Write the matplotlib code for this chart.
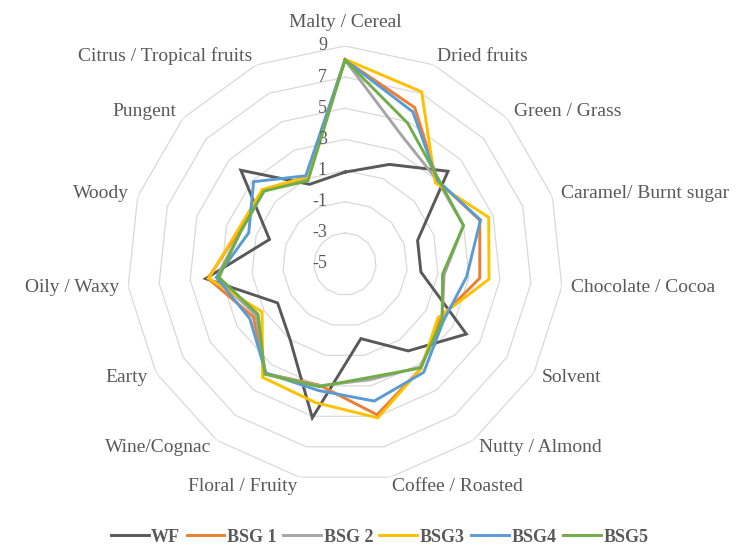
import numpy as np
import matplotlib
matplotlib.use("Agg")
import matplotlib.pyplot as plt

# aroma attributes, clockwise from the top
categories = ['Malty / Cereal', 'Dried fruits', 'Green / Grass', 'Caramel/ Burnt sugar',
              'Chocolate / Cocoa', 'Solvent', 'Nutty / Almond', 'Coffee / Roasted',
              'Floral / Fruity', 'Wine/Cognac', 'Earty', 'Oily / Waxy', 'Woody',
              'Pungent', 'Citrus / Tropical fruits']

series_names = ['WF', 'BSG 1', 'BSG 2', 'BSG3', 'BSG4', 'BSG5']
wf = [0.9, 2.0, 3.9, -0.1, -0.1, 4.0, 1.9, -0.1, 5.1, 1.0, 0.0, 4.0, 0.1, 4.0, 0.6]
bsg1 = [8.1, 6.0, 3.0, 4.1, 3.7, 2.0, 3.3, 4.9, 2.95, 3.7, 1.8, 3.85, 2.1, 2.1, 1.1]
bsg2 = [8.1, 4.0, 3.0, 3.0, 1.4, 2.2, 3.2, 2.6, 3.0, 3.7, 1.6, 3.3, 2.0, 2.0, 1.0]
bsg3 = [8.15, 7.1, 2.8, 4.7, 4.3, 1.9, 3.3, 5.1, 4.1, 4.0, 1.15, 3.8, 2.2, 2.15, 1.1]
bsg4 = [8.1, 5.7, 3.0, 4.15, 2.85, 2.3, 3.6, 4.0, 3.3, 3.65, 2.05, 3.3, 1.5, 2.9, 1.2]
bsg5 = [8.1, 4.9, 3.1, 3.0, 1.3, 2.2, 3.25, 2.45, 3.05, 3.75, 1.45, 3.15, 2.0, 2.0, 0.85]

ring_values = [-3, -1, 1, 3, 5, 7, 9]
tick_labels = ['9', '7', '5', '3', '1', '-1', '-3', '-5']

colors = ['#595959', '#ED7D31', '#A5A5A5', '#FFC000', '#5B9BD5', '#70AD47']
text_color = '#595959'

plt.rcParams['font.family'] = ['Liberation Serif', 'DejaVu Serif']

n = len(categories)
theta = np.arange(n) * 2 * np.pi / n
theta_closed = np.append(theta, theta[0])

fig = plt.figure(figsize=(7.52, 5.52), dpi=100)
ax = fig.add_axes([0.1689, 0.1268, 0.5798, 0.7899], projection='polar')
ax.set_theta_zero_location('N')
ax.set_theta_direction(-1)
ax.set_ylim(-5, 9)
ax.grid(False)
ax.spines['polar'].set_visible(False)
ax.set_xticks([])
ax.set_yticks([])
ax.patch.set_visible(False)

# polygon gridlines
for rv in ring_values:
    ax.plot(theta_closed, [rv] * (n + 1), color='#d9d9d9', lw=0.9, zorder=1)

# series
for name, vals, col in zip(series_names, [wf, bsg1, bsg2, bsg3, bsg4, bsg5], colors):
    v = list(vals) + [vals[0]]
    ax.plot(theta_closed, v, color=col, lw=2.1, label=name, zorder=3,
            solid_joinstyle='miter')

# value axis labels along the vertical axis
for lab in tick_labels:
    ax.annotate(lab, xy=(0, float(lab)), xytext=(-13, 0), textcoords='offset points',
                ha='right', va='center', fontsize=13, color=text_color, zorder=4)

# category labels
for i, (cat, t) in enumerate(zip(categories, theta)):
    s = np.sin(t)
    if i == 0:
        ax.text(t, 10.5, cat, ha='center', va='center', fontsize=14, color=text_color)
        continue
    ha = 'left' if s > 0.01 else 'right'
    ax.text(t, 9.6, cat, ha=ha, va='center', fontsize=14, color=text_color)

leg = fig.legend(loc='lower center', bbox_to_anchor=(0.505, -0.018), ncol=6, frameon=False,
                 handlelength=2.1, handletextpad=0.15, columnspacing=0.35,
                 prop={'weight': 'bold', 'size': 13})
for txt in leg.get_texts():
    txt.set_color(text_color)

fig.savefig('out.png', dpi=100)
